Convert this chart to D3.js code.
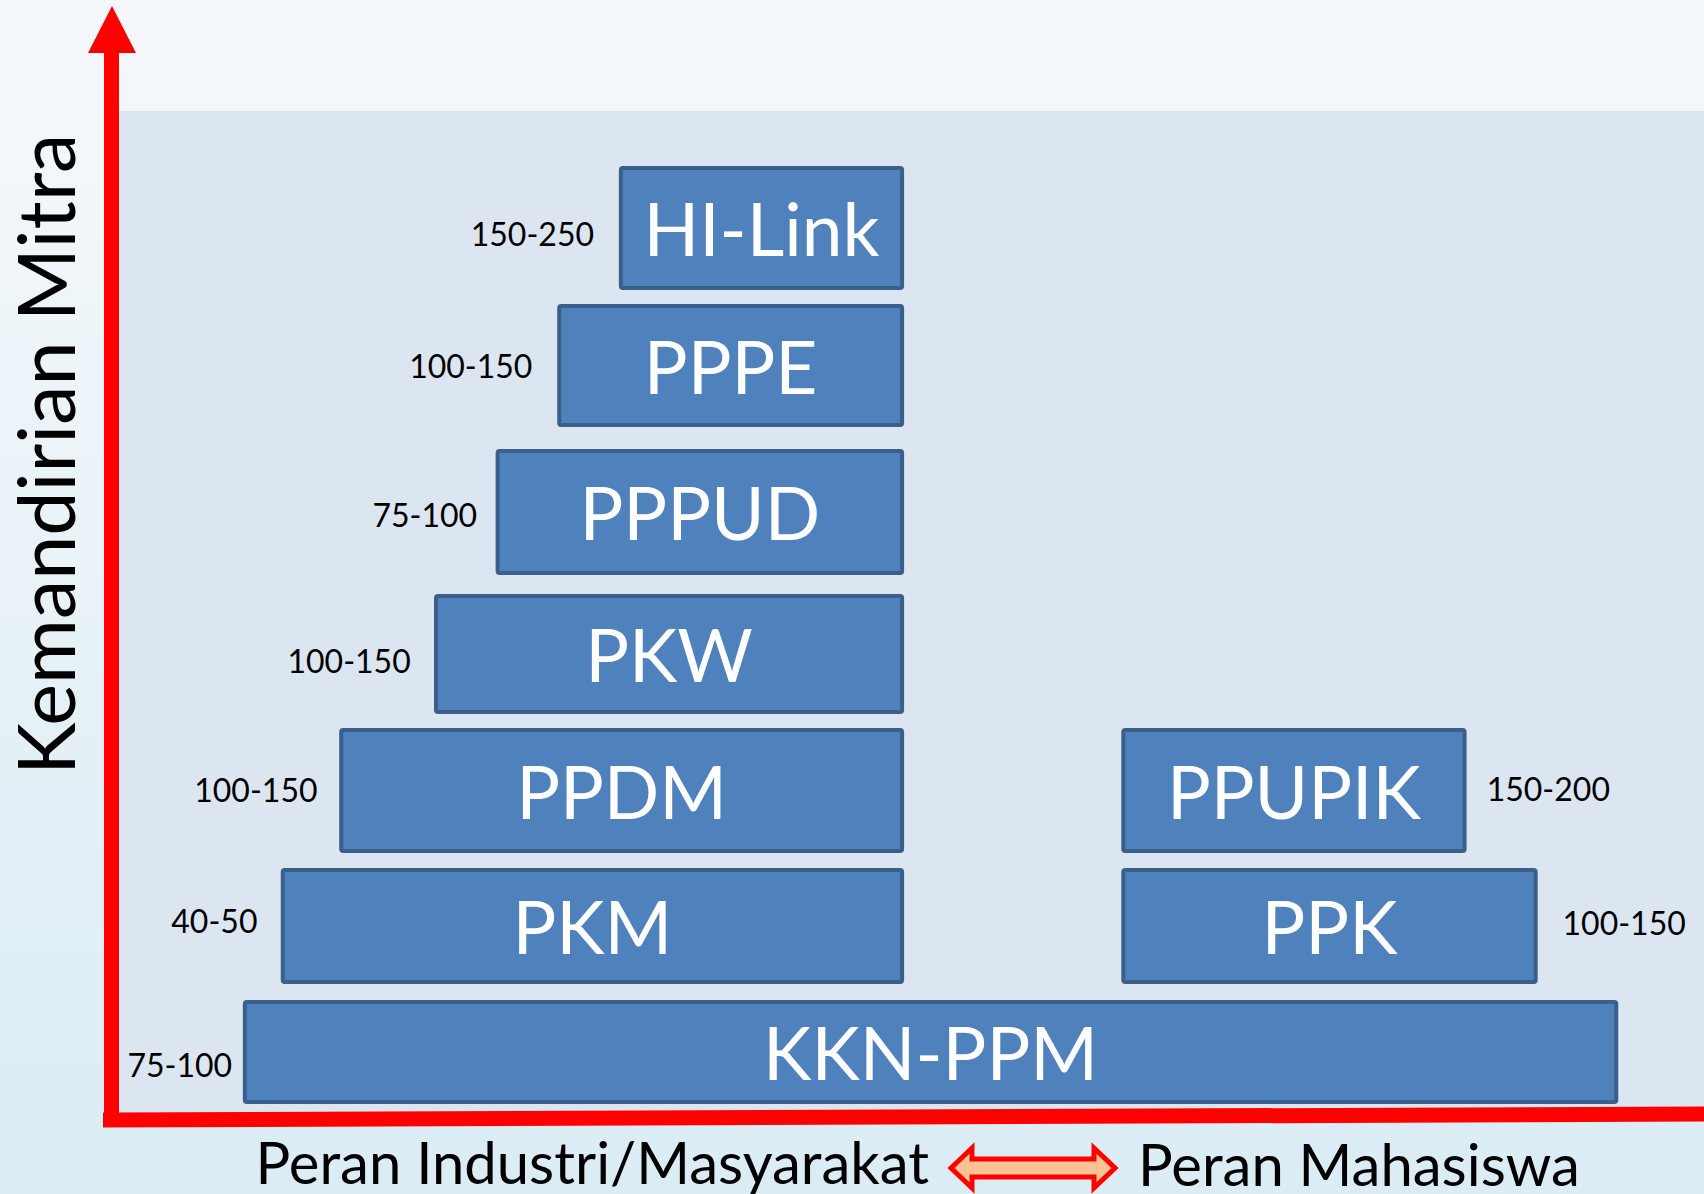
<!DOCTYPE html>
<html>
<head>
<meta charset="utf-8">
<script src="https://cdnjs.cloudflare.com/ajax/libs/d3/7.8.5/d3.min.js"></script>
<style>
	html, body { margin:0; padding:0; background:#ffffff; }
	#chart { width:1704px; height:1194px; }
</style>
</head>
<body>
<div id="chart"></div>
<script>
// program boxes, top to bottom on the left, then the right column
var programs   = ['HI-Link', 'PPPE', 'PPPUD', 'PKW', 'PPDM', 'PKM', 'KKN-PPM', 'PPUPIK', 'PPK'];
var ranges     = ['150-250', '100-150', '75-100', '100-150', '100-150', '40-50', '75-100', '150-200', '100-150'];
// horizontal extent (peran industri 0 .. 100 peran mahasiswa)
var roleFrom   = [31.7, 27.8, 23.9, 20.0, 14.0, 10.3, 7.9, 63.5, 63.5];
var roleTo     = [49.5, 49.5, 49.5, 49.5, 49.5, 49.5, 94.7, 85.1, 89.6];
// vertical extent (kemandirian mitra 0 .. 100)
var levelFrom  = [82.2, 68.5, 53.7, 39.8, 25.9, 12.8, 0.8, 25.9, 12.8];
var levelTo    = [94.2, 80.4, 65.9, 51.4, 38.0, 24.0, 10.8, 38.0, 24.0];
// where the range note sits
var rangeSide  = ['left', 'left', 'left', 'left', 'left', 'left', 'left', 'right', 'right'];
var rangeRole  = [30.0, 26.1, 22.6, 18.4, 12.5, 8.7, 7.1, 86.5, 91.3];
var rangeLevel = [87.6, 74.4, 59.5, 44.9, 32.0, 18.9, 4.5, 32.1, 18.7];

var xTitleLeft  = 'Peran Industri/Masyarakat';
var xTitleRight = 'Peran Mahasiswa';
var yTitle      = 'Kemandirian Mitra';

var opt = {
	width : 1704,
	height : 1194,
	plot : { left:119, top:111, right:1704, bottom:1112, color:'#dce6f1' },
	font : 'Lato, "Open Sans", sans-serif',
	box : { fill:'#4f81bd', stroke:'#3a5f8b', strokeWidth:4, fontSize:73, textColor:'#ffffff' },
	note : { fontSize:32, color:'#000000' },
	axis : { color:'#ff0000', width:15 },
	title : { fontSize:58, color:'#000000' }
};

var data = programs.map(function(p, i){
	return {
		name : p, range : ranges[i],
		x0 : roleFrom[i], x1 : roleTo[i],
		y0 : levelFrom[i], y1 : levelTo[i],
		side : rangeSide[i], nx : rangeRole[i], ny : rangeLevel[i]
	};
});

var x = d3.scaleLinear().domain([0, 100]).range([120, 1700]);
var y = d3.scaleLinear().domain([0, 100]).range([1110, 110]);

var svg = d3.select('#chart').append('svg')
	.attr('width', opt.width)
	.attr('height', opt.height)
	.attr('viewBox', '0,0,' + opt.width + ',' + opt.height)
	.style('font-family', opt.font);

//背景
var defs = svg.append('defs');
var bg = defs.append('linearGradient')
	.attr('id', 'bgGradient')
	.attr('x1', '0%').attr('y1', '0%')
	.attr('x2', '0%').attr('y2', '100%');
bg.append('stop').attr('offset', '0%').attr('stop-color', '#f5f8fb');
bg.append('stop').attr('offset', '100%').attr('stop-color', '#dbecf4');

svg.append('rect')
	.attr('width', opt.width)
	.attr('height', opt.height)
	.attr('fill', 'url(#bgGradient)');

svg.append('rect')
	.attr('x', opt.plot.left)
	.attr('y', opt.plot.top)
	.attr('width', opt.plot.right - opt.plot.left)
	.attr('height', opt.plot.bottom - opt.plot.top)
	.attr('fill', opt.plot.color);

//boxes
var g = svg.append('g');
var item = g.selectAll('g.item').data(data).enter().append('g').attr('class', 'item');

item.append('rect')
	.attr('x', function(d){ return x(d.x0); })
	.attr('y', function(d){ return y(d.y1); })
	.attr('width', function(d){ return x(d.x1) - x(d.x0); })
	.attr('height', function(d){ return y(d.y0) - y(d.y1); })
	.attr('rx', 2)
	.attr('fill', opt.box.fill)
	.attr('stroke', opt.box.stroke)
	.attr('stroke-width', opt.box.strokeWidth);

item.append('text')
	.attr('x', function(d){ return (x(d.x0) + x(d.x1)) / 2; })
	.attr('y', function(d){ return (y(d.y0) + y(d.y1)) / 2 + opt.box.fontSize * 0.36 + 2; })
	.attr('text-anchor', 'middle')
	.attr('fill', opt.box.textColor)
	.attr('font-size', opt.box.fontSize + 'px')
	.text(function(d){ return d.name; });

item.append('text')
	.attr('x', function(d){ return x(d.nx); })
	.attr('y', function(d){ return y(d.ny) + opt.note.fontSize * 0.36; })
	.attr('text-anchor', function(d){ return d.side == 'left' ? 'end' : 'start'; })
	.attr('fill', opt.note.color)
	.attr('font-size', opt.note.fontSize + 'px')
	.text(function(d){ return d.range; });

//axes
var ax = svg.append('g');
ax.append('line')
	.attr('x1', 103).attr('y1', 1120)
	.attr('x2', opt.width).attr('y2', 1114)
	.attr('stroke', opt.axis.color)
	.attr('stroke-width', opt.axis.width);
ax.append('line')
	.attr('x1', 111.5).attr('y1', 1127)
	.attr('x2', 111.5).attr('y2', 50)
	.attr('stroke', opt.axis.color)
	.attr('stroke-width', opt.axis.width);
ax.append('path')
	.attr('d', 'M112,6 L136,53 L88,53 Z')
	.attr('fill', opt.axis.color);

//titles
svg.append('text')
	.attr('transform', 'translate(75,775) rotate(-90)')
	.attr('fill', opt.title.color)
	.attr('font-size', '79px')
	.text(yTitle);

svg.append('text')
	.attr('x', 929)
	.attr('y', 1184)
	.attr('text-anchor', 'end')
	.attr('fill', opt.title.color)
	.attr('font-size', opt.title.fontSize + 'px')
	.text(xTitleLeft);

svg.append('text')
	.attr('x', 1138)
	.attr('y', 1186)
	.attr('fill', opt.title.color)
	.attr('font-size', opt.title.fontSize + 'px')
	.text(xTitleRight);

//double arrow between the two roles
svg.append('path')
	.attr('d', 'M951,1168 L972,1148 L972,1159 L1094,1159 L1094,1148 L1115,1168 L1094,1188 L1094,1177 L972,1177 L972,1188 Z')
	.attr('fill', '#fbc393')
	.attr('stroke', '#ff0000')
	.attr('stroke-width', 5)
	.attr('stroke-linejoin', 'miter');
</script>
</body>
</html>
